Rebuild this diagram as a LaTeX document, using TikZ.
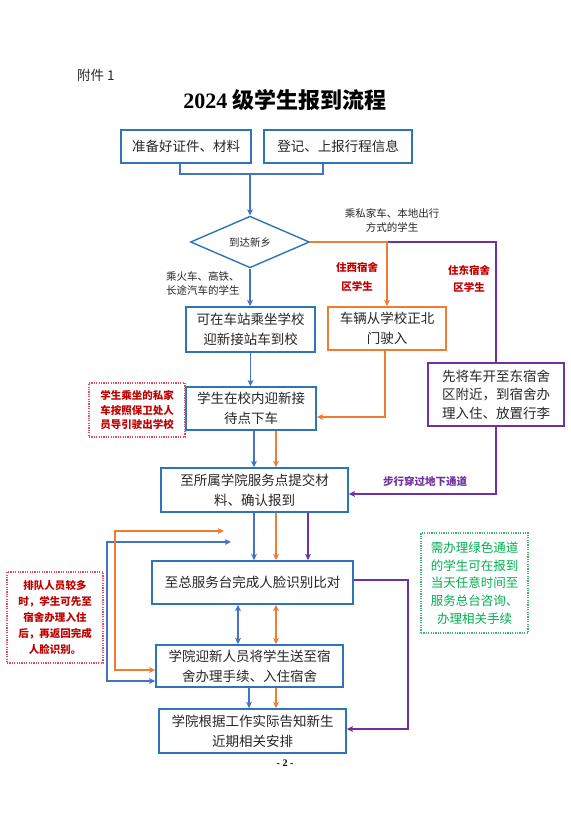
\documentclass[tikz,border=0pt]{standalone}
\usepackage{fontspec}
\setmainfont{Noto Sans CJK SC}
\newfontfamily\timesfont{Liberation Serif}
\usetikzlibrary{arrows.meta,shapes.geometric}
\definecolor{boxblue}{HTML}{2E75B6}
\definecolor{lineblue}{HTML}{4472C4}
\definecolor{orng}{HTML}{ED7D31}
\definecolor{purp}{HTML}{7030A0}
\definecolor{dred}{HTML}{C00000}
\definecolor{grn}{HTML}{00B050}
\definecolor{grnbrd}{HTML}{3CB864}
\definecolor{redbrd}{HTML}{E04A62}
\definecolor{txt}{HTML}{262626}
\tikzset{
  box/.style={draw=boxblue, line width=1.6pt, fill=white, align=center, inner sep=0pt,
    font=\fontsize{13.5}{20}\selectfont, text=txt},
  obox/.style={box, draw=orng},
  pbox/.style={box, draw=purp},
  dia/.style={shape=diamond, draw=boxblue, line width=1.4pt, fill=white, inner sep=0pt,
    minimum width=119pt, minimum height=50pt, font=\fontsize{10.5}{12}\selectfont, text=txt},
  tip/.tip={Stealth[length=6pt,width=5.5pt,inset=1pt]},
  bline/.style={draw=lineblue, line width=1.2pt},
  barr/.style={bline, -tip},
  bdbl/.style={bline, tip-tip},
  oline/.style={draw=orng, line width=1.2pt},
  oarr/.style={oline, -tip},
  odbl/.style={oline, tip-tip},
  pline/.style={draw=purp, line width=1.2pt},
  parr/.style={pline, -tip},
  lbl/.style={align=center, font=\fontsize{10.5}{14}\selectfont, text=txt, inner sep=0pt},
  rlbl/.style={align=center, font=\fontsize{10.5}{14}\selectfont\bfseries, text=dred, inner sep=0pt},
  rnote/.style={draw=redbrd, dash pattern=on 1.2pt off 1.2pt, line width=1.3pt, align=center,
    font=\fontsize{10.5}{14.5}\selectfont\bfseries, text=dred, inner sep=0pt},
  gnote/.style={draw=grnbrd, dash pattern=on 1.2pt off 1.2pt, line width=1.3pt, align=center,
    font=\fontsize{12.5}{17.7}\selectfont, text=grn, inner sep=0pt}
}
\begin{document}
\begin{tikzpicture}[x=1pt,y=-1pt]
\fill[white] (0,0) rectangle (570,816);
\useasboundingbox (0,0) rectangle (570,816);

\node[anchor=west, font=\fontsize{13.5}{16}\selectfont, text=txt, inner sep=0pt] (fj) at (77,75) {附件 1};
\node[font=\fontsize{22}{26}\selectfont\bfseries, inner sep=0pt] (title) at (285,100) {{\timesfont\bfseries 2024} 级学生报到流程};

\node[box, minimum width=130pt, minimum height=33pt] (b1) at (186,146.5) {准备好证件、材料};
\node[box, minimum width=148pt, minimum height=33pt] (b2) at (338,146.5) {登记、上报行程信息};
\node[dia] (d) at (250,242) {到达新乡};
\node[box, minimum width=129pt, minimum height=45pt] (b3) at (250.5,329.5) {可在车站乘坐学校\\迎新接站车到校};
\node[obox, minimum width=118pt, minimum height=43pt] (b4) at (387,328.5) {车辆从学校正北\\门驶入};
\node[pbox, minimum width=136pt, minimum height=63pt, font=\fontsize{13.5}{18.5}\selectfont] (b5) at (496,394.5) {先将车开至东宿舍\\区附近，到宿舍办\\理入住、放置行李};
\node[box, minimum width=130pt, minimum height=43pt] (b6) at (251,408.5) {学生在校内迎新接\\待点下车};
\node[box, minimum width=187pt, minimum height=44pt] (b7) at (254.5,490) {至所属学院服务点提交材\\料、确认报到};
\node[box, minimum width=201pt, minimum height=43pt] (b8) at (252.5,582.5) {至总服务台完成人脸识别比对};
\node[box, minimum width=187pt, minimum height=42pt] (b9) at (249.5,666) {学院迎新人员将学生送至宿\\舍办理手续、入住宿舍};
\node[box, minimum width=187pt, minimum height=44pt] (b10) at (252.5,731) {学院根据工作实际告知新生\\近期相关安排};

% labels
\node[lbl] (l1) at (392,220.5) {乘私家车、本地出行\\方式的学生};
\node[lbl, align=left, anchor=west] (l2) at (166,283.5) {乘火车、高铁、\\长途汽车的学生};
\node[rlbl, font=\fontsize{10.5}{19.5}\selectfont\bfseries] (l3) at (357,277) {住西宿舍\\区学生};
\node[rlbl, font=\fontsize{10.5}{17}\selectfont\bfseries] (l4) at (469,279) {住东宿舍\\区学生};
\node[font=\fontsize{10.5}{12}\selectfont\bfseries, text=purp, inner sep=0pt] (l5) at (425,482) {步行穿过地下通道};

\node[rnote, minimum width=96pt, minimum height=54pt] (n1) at (137,410) {学生乘坐的私家\\车按照保卫处人\\员导引驶出学校};
\node[rnote, minimum width=96pt, minimum height=91pt, font=\fontsize{10.5}{16}\selectfont\bfseries] (n2) at (55,617.5) {排队人员较多\\时，学生可先至\\宿舍办理入住\\后，再返回完成\\人脸识别。};
\node[gnote, minimum width=107pt, minimum height=100pt] (n3) at (474.5,583) {需办理绿色通道\\的学生可在报到\\当天任意时间至\\服务总台咨询、\\办理相关手续};

% coordinates
\coordinate (bl) at (180,174);
\coordinate (br) at (323,174);
\coordinate (bm) at (250,174);
\coordinate (oc) at (387,242);
\coordinate (pc1) at (388,242);
\coordinate (pc2) at (496,242);
\coordinate (pc3) at (496,494);
\coordinate (oc2) at (385,417);
\coordinate (xa) at (254,0);
\coordinate (xb) at (276,0);
\coordinate (xc) at (308,0);
\coordinate (xd) at (238,0);
\coordinate (xe) at (249,0);
\coordinate (pr1) at (408,580);
\coordinate (pr2) at (408,729);
\coordinate (lb1) at (231,542);
\coordinate (lb2) at (107,542);
\coordinate (lb3) at (107,681);
\coordinate (lo1) at (224,531);
\coordinate (lo2) at (115,531);
\coordinate (lo3) at (115,670);

% connectors
\draw[bline] (b1.south -| bl) -- (bl) -- (br) -- (b2.south -| br);
\draw[barr] (bm) -- (d.north);
\draw[barr] (d.south) -- (d.south |- b3.north);
\draw[pline] (pc1) -- (pc2) -- (b5.north);
\draw[oarr] (d.east) -- (oc) -- (b4.north);
\draw[parr] (b5.south) -- (pc3) -- (b7.east |- pc3);
\draw[barr] (b3.south) -- (b3.south |- b6.north);
\draw[oarr] (b4.south -| oc2) -- (oc2) -- (b6.east |- oc2);
\draw[barr] (b6.south -| xa) -- (b7.north -| xa);
\draw[oarr] (b6.south -| xb) -- (b7.north -| xb);
\draw[barr] (b7.south -| xa) -- (b8.north -| xa);
\draw[oarr] (b7.south -| xb) -- (b8.north -| xb);
\draw[parr] (b7.south -| xc) -- (b8.north -| xc);
\draw[bdbl] (b8.south -| xd) -- (b9.north -| xd);
\draw[odbl] (b8.south -| xb) -- (b9.north -| xb);
\draw[barr] (b9.south -| xe) -- (b10.north -| xe);
\draw[oarr] (b9.south -| xb) -- (b10.north -| xb);
\draw[parr] (b8.east |- pr1) -- (pr1) -- (pr2) -- (b10.east |- pr2);
\draw[bdbl] (lb1) -- (lb2) -- (lb3) -- (b9.west |- lb3);
\draw[odbl] (lo1) -- (lo2) -- (lo3) -- (b9.west |- lo3);

\node[font=\fontsize{10}{12}\selectfont, inner sep=0pt] (pg) at (285,763) {{\timesfont\bfseries - 2 -}};
\end{tikzpicture}
\end{document}
